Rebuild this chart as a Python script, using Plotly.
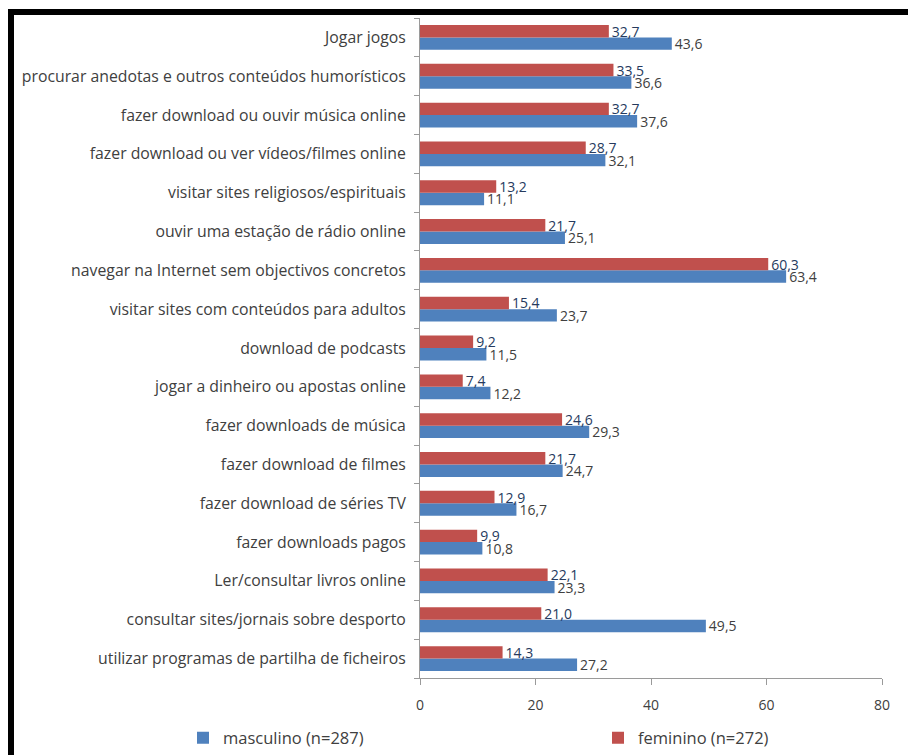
import plotly.graph_objects as go

# Activities, listed top to bottom as they appear on the chart
categories = [
    "Jogar jogos",
    "procurar anedotas e outros conteúdos humorísticos",
    "fazer download ou ouvir música online",
    "fazer download ou ver vídeos/filmes online",
    "visitar sites religiosos/espirituais",
    "ouvir uma estação de rádio online",
    "navegar na Internet sem objectivos concretos",
    "visitar sites com conteúdos para adultos",
    "download de podcasts",
    "jogar a dinheiro ou apostas online",
    "fazer downloads de música",
    "fazer download de filmes",
    "fazer download de séries TV",
    "fazer downloads pagos",
    "Ler/consultar livros online",
    "consultar sites/jornais sobre desporto",
    "utilizar programas de partilha de ficheiros",
]

masculino = [43.6, 36.6, 37.6, 32.1, 11.1, 25.1, 63.4, 23.7, 11.5, 12.2,
             29.3, 24.7, 16.7, 10.8, 23.3, 49.5, 27.2]
feminino = [32.7, 33.5, 32.7, 28.7, 13.2, 21.7, 60.3, 15.4, 9.2, 7.4,
            24.6, 21.7, 12.9, 9.9, 22.1, 21.0, 14.3]

x_ticks = [0, 20, 40, 60, 80]

BLUE = "#4F81BD"
RED = "#C0504D"
FONT = "Open Sans"

fig = go.Figure()
fig.add_trace(go.Bar(
    name="masculino (n=287)", y=categories, x=masculino, orientation="h",
    marker=dict(color=BLUE, line=dict(width=0)),
    texttemplate="%{x:.1f}", textposition="outside", cliponaxis=False,
    constraintext="none",
    textfont=dict(family=FONT, size=14, color="#404040"),
    legend="legend",
))
fig.add_trace(go.Bar(
    name="feminino (n=272)", y=categories, x=feminino, orientation="h",
    marker=dict(color=RED, line=dict(width=0)),
    texttemplate="%{x:.1f}", textposition="outside", cliponaxis=False,
    constraintext="none",
    textfont=dict(family=FONT, size=14, color="#263a5e"),
    legend="legend2",
))

W, H = 908, 755
ML, MR, MT, MB = 420, 26, 18, 77
pw = W - ML - MR
ph = H - MT - MB


def px_x(p):
    return (p - ML) / pw


def px_y(p):
    return (H - MB - p) / ph


legend_style = dict(
    orientation="h", xanchor="left", y=px_y(738), yanchor="middle",
    font=dict(family=FONT, size=16.5, color="#404040"),
    itemwidth=30, bgcolor="rgba(0,0,0,0)", borderwidth=0,
)

fig.update_layout(
    width=W, height=H,
    margin=dict(l=ML, r=MR, t=MT, b=MB, pad=0, autoexpand=False),
    paper_bgcolor="white", plot_bgcolor="white",
    barmode="group", bargap=0.36, bargroupgap=0,
    separators=",.",
    font=dict(family=FONT, size=14, color="#404040"),
    xaxis=dict(
        range=[0, 80], tickvals=x_ticks, showgrid=False, zeroline=False,
        showline=True, linecolor="#9a9a9a", linewidth=1,
        ticks="outside", ticklen=6, tickcolor="#9a9a9a",
        ticklabelstandoff=8,
        tickfont=dict(family=FONT, size=14, color="#404040"),
    ),
    yaxis=dict(
        categoryorder="array", categoryarray=categories[::-1],
        showgrid=False, showline=True, linecolor="#9a9a9a", linewidth=1,
        ticks="outside", ticklen=5, tickcolor="#9a9a9a", tickson="boundaries",
        ticklabelstandoff=10,
        tickfont=dict(family=FONT, size=15.8, color="#404040"),
    ),
    showlegend=True,
    legend=dict(x=px_x(183), **legend_style),
    legend2=dict(x=px_x(598), **legend_style),
    shapes=[
        # frame around the figure (top and left edges)
        dict(type="rect", xref="paper", yref="paper",
             x0=px_x(8), x1=px_x(908), y0=px_y(9), y1=px_y(15),
             fillcolor="black", line=dict(width=0), layer="above"),
        dict(type="rect", xref="paper", yref="paper",
             x0=px_x(8), x1=px_x(14), y0=px_y(9), y1=px_y(755),
             fillcolor="black", line=dict(width=0), layer="above"),
    ],
)

fig.write_html("out.html")
